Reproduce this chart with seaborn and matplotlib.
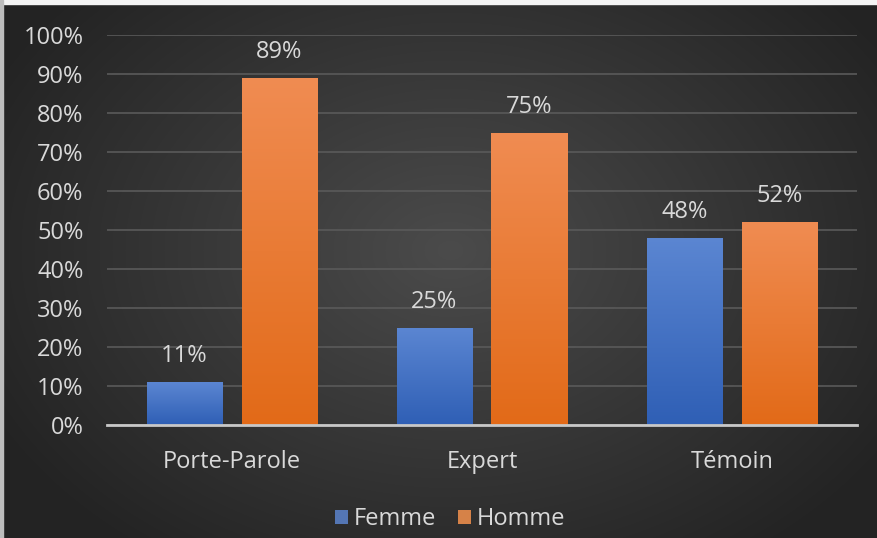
import numpy as np
import pandas as pd
import matplotlib
matplotlib.use("Agg")
import matplotlib.pyplot as plt
import seaborn as sns
from matplotlib.colors import LinearSegmentedColormap, to_rgb

categories = ["Porte-Parole", "Expert", "Témoin"]
series_names = ["Femme", "Homme"]
femme = [0.11, 0.25, 0.48]
homme = [0.89, 0.75, 0.52]
y_ticks = [0.0, 0.1, 0.2, 0.3, 0.4, 0.5, 0.6, 0.7, 0.8, 0.9, 1.0]

df = pd.DataFrame({
    "Catégorie": categories * 2,
    "Genre": [series_names[0]] * 3 + [series_names[1]] * 3,
    "Part": femme + homme,
})

base_colors = {"Femme": "#4472c4", "Homme": "#ed7d31"}
grad_colors = {
    "Femme": ("#2f5fb5", "#5b86d2"),
    "Homme": ("#e26a18", "#f08c52"),
}
text_color = "#d9d9d9"
fs = 17

sns.set_theme(style="dark")
plt.rcParams["font.family"] = ["Open Sans", "DejaVu Sans"]

W, H = 877, 538
fig = plt.figure(figsize=(W / 100, H / 100), dpi=100)

# radial background shading
bg = fig.add_axes([0, 0, 1, 1])
yy, xx = np.mgrid[0:H, 0:W]
r = np.sqrt(((xx - 450) / 520.0) ** 2 + ((yy - 250) / 380.0) ** 2)
r = np.clip(r, 0, 1)
inner = np.array(to_rgb("#4b4b4b"))
outer = np.array(to_rgb("#232323"))
img = inner[None, None, :] * (1 - r[..., None]) + outer[None, None, :] * r[..., None]
bg.imshow(img, extent=[0, W, H, 0], aspect="auto", zorder=0)
bg.set_xlim(0, W)
bg.set_ylim(H, 0)
bg.axis("off")
# thin light frame on top and left edge
bg.add_patch(plt.Rectangle((0, 0), W, 4, color="#f4f4f4", zorder=1))
bg.add_patch(plt.Rectangle((0, 0), 3, H, color="#bdbdbd", zorder=1))

left, right = 107 / W, 857 / W
bottom = (H - 425) / H
top = (H - 35) / H
ax = fig.add_axes([left, bottom, right - left, top - bottom])
ax.patch.set_alpha(0)

sns.barplot(
    data=df, x="Catégorie", y="Part", hue="Genre",
    hue_order=series_names, order=categories,
    palette=base_colors, width=0.76, gap=0.2,
    ax=ax, legend=True, zorder=3,
)

ax.set_xlim(-0.5, 2.5)
ax.set_ylim(0, 1.0)
ax.set_yticks(y_ticks)
ax.set_yticklabels([f"{int(round(t * 100))}%" for t in y_ticks])
ax.set_xlabel("")
ax.set_ylabel("")
ax.tick_params(axis="y", colors=text_color, labelsize=fs, pad=17, length=0)
ax.tick_params(axis="x", colors=text_color, labelsize=fs, pad=18, length=0)
ax.grid(axis="y", color="#5a5a5a", linewidth=1.2, zorder=1)
ax.grid(axis="x", visible=False)
for s in ["top", "right", "left"]:
    ax.spines[s].set_visible(False)
ax.spines["bottom"].set_color("#c8c8c8")
ax.spines["bottom"].set_linewidth(2)
ax.spines["bottom"].set_zorder(5)

# vertical gradient fill on each bar, plus value labels
for i, name in enumerate(series_names):
    cont = ax.containers[i]
    cmap = LinearSegmentedColormap.from_list(name, list(grad_colors[name]))
    for p in cont.patches:
        x0, y0 = p.get_x(), p.get_y()
        w, h = p.get_width(), p.get_height()
        grad = np.linspace(0, 1, 256).reshape(-1, 1)
        im = ax.imshow(grad, cmap=cmap, origin="lower", aspect="auto",
                       extent=[x0, x0 + w, y0, y0 + h], zorder=4)
        im.set_clip_path(p)
        p.set_edgecolor("none")
    ax.bar_label(cont, labels=[f"{int(round(v * 100))}%" for v in cont.datavalues],
                 padding=10, color=text_color, fontsize=fs)

ax.set_xlim(-0.5, 2.5)
ax.set_ylim(0, 1.0)

leg = ax.legend(
    loc="center", bbox_to_anchor=(450 / W, 19 / H), bbox_transform=fig.transFigure,
    ncol=2, frameon=False, fontsize=fs, handlelength=0.55, handleheight=0.55,
    handletextpad=0.25, columnspacing=0.9,
)
for h in leg.legend_handles:
    h.set_edgecolor("none")
for t in leg.get_texts():
    t.set_color(text_color)

fig.savefig("out.png", dpi=100)
